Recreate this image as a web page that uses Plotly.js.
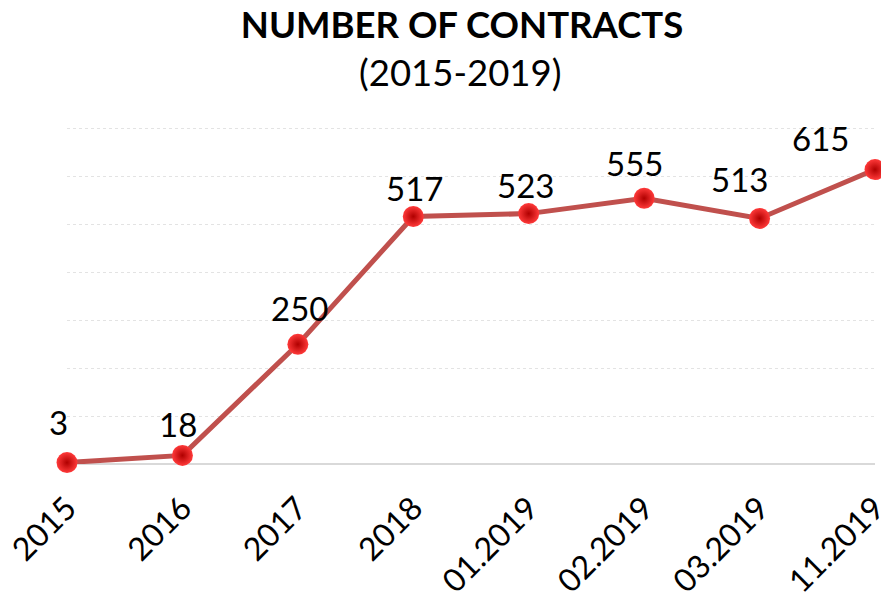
<!DOCTYPE html>
<html>
<head>
<meta charset="utf-8">
<script src="https://cdn.plot.ly/plotly-3.0.1.min.js"></script>
<style>html,body{margin:0;padding:0;background:#fff;}#chart{width:881px;height:601px;}</style>
</head>
<body>
<div id="chart"></div>
<script>
// Data
const categories = ["2015", "2016", "2017", "2018", "01.2019", "02.2019", "03.2019", "11.2019"];
const contracts = [3, 18, 250, 517, 523, 555, 513, 615];
const chartTitle = "NUMBER OF CONTRACTS";
const chartSubtitle = "(2015-2019)";

// Label pixel offsets (style only)
const labelDx = [-9, -4, 2, 1, -3, -10, -20, -55];
const labelDy = [41, 31, 36, 28, 29, 35, 39, 32];

const FONT = "Lato, 'Open Sans', sans-serif";

const trace = {
  x: categories,
  y: contracts,
  type: "scatter",
  mode: "lines+markers",
  line: {color: "#c0504d", width: 5},
  marker: {
    size: 21,
    color: "#ff3a3a",
    gradient: {type: "radial", color: "#b00000"},
    line: {width: 0}
  },
  cliponaxis: false,
  hoverinfo: "x+y"
};

const annotations = contracts.map((v, i) => ({
  x: i, y: v, xref: "x", yref: "y",
  text: String(v), showarrow: false,
  xanchor: "center", yanchor: "middle",
  xshift: labelDx[i], yshift: labelDy[i],
  font: {family: FONT, size: 33, color: "#000"}
}));
annotations.push({
  xref: "paper", yref: "paper", x: 0.4864, y: 1.1597,
  xanchor: "center", yanchor: "middle", showarrow: false,
  text: chartSubtitle,
  font: {family: FONT, size: 36.5, color: "#000"}
});

const layout = {
  width: 881, height: 601,
  margin: {l: 67, r: 6, t: 126, b: 137, pad: 0},
  paper_bgcolor: "#fff", plot_bgcolor: "#fff",
  showlegend: false,
  title: {
    text: "<b>" + chartTitle + "</b>",
    x: 0.5244, xanchor: "center", xref: "container",
    y: 0.9576, yanchor: "middle", yref: "container",
    font: {family: FONT, size: 36.5, color: "#000"}
  },
  xaxis: {
    type: "category", range: [0, 7],
    showgrid: false, showline: false, zeroline: false,
    ticks: "", tickangle: -45, ticklabelstandoff: 18,
    tickfont: {family: FONT, size: 32, color: "#000"}
  },
  yaxis: {
    range: [0, 706], dtick: 100, tick0: 0,
    showticklabels: false, ticks: "",
    showgrid: true, gridcolor: "#e3e3e3", gridwidth: 1, griddash: "dot",
    zeroline: true, zerolinecolor: "#d9d9d9", zerolinewidth: 2,
    showline: false
  },
  annotations: annotations
};

Plotly.newPlot("chart", [trace], layout, {displayModeBar: false, staticPlot: true});
</script>
</body>
</html>
